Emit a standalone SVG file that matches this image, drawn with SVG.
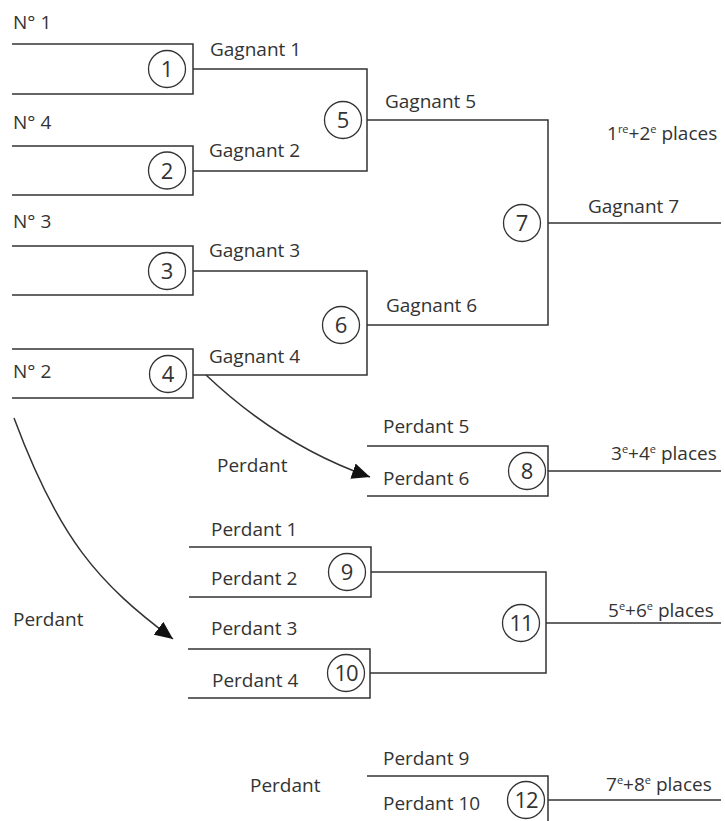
<svg xmlns="http://www.w3.org/2000/svg" width="725" height="821" viewBox="0 0 725 821">
<style>
  .ln{fill:none;stroke:#333;stroke-width:1.5}
  .cr{fill:#fff;stroke:#333;stroke-width:1.3}
  .t{font-family:"Open Sans","Noto Sans","Liberation Sans",sans-serif;font-size:19px;fill:#333}
  .n{font-family:"Open Sans","Noto Sans","Liberation Sans",sans-serif;font-size:22px;fill:#333;text-anchor:middle}
  .s{font-size:11px}
</style>
<defs>
  <marker id="ah" viewBox="0 0 18 16" refX="18" refY="8" markerWidth="18" markerHeight="16" markerUnits="userSpaceOnUse" orient="auto">
    <path d="M0,0 L18,8 L0,16 z" fill="#111"/>
  </marker>
</defs>
<rect width="725" height="821" fill="#fff"/>

<g id="match1">
  <path class="ln" d="M12,44 H193 V94 H12"/>
  <circle class="cr" cx="167" cy="69" r="18.5"/>
  <text class="n" x="167" y="77">1</text>
  <text class="t" x="13" y="29">N° 1</text>
</g>
<g id="match2">
  <path class="ln" d="M12,146 H193 V195 H12"/>
  <circle class="cr" cx="167" cy="170.5" r="18.5"/>
  <text class="n" x="167" y="178.5">2</text>
  <text class="t" x="13" y="129">N° 4</text>
</g>
<g id="match3">
  <path class="ln" d="M12,246 H193 V295 H12"/>
  <circle class="cr" cx="167" cy="271" r="18.5"/>
  <text class="n" x="167" y="279">3</text>
  <text class="t" x="13" y="228">N° 3</text>
</g>
<g id="match4">
  <path class="ln" d="M12,349 H193 V398 H12"/>
  <circle class="cr" cx="168" cy="374" r="18.5"/>
  <text class="n" x="168" y="382">4</text>
  <text class="t" x="13" y="378">N° 2</text>
</g>
<g id="match5">
  <circle class="cr" cx="343" cy="120" r="18.5"/>
  <text class="n" x="343" y="128">5</text>
</g>
<g id="match6">
  <circle class="cr" cx="341" cy="325" r="18.5"/>
  <text class="n" x="341" y="333">6</text>
</g>
<g id="match7">
  <circle class="cr" cx="522" cy="223" r="18.5"/>
  <text class="n" x="522" y="231">7</text>
  <text class="t" x="607" y="140">1<tspan class="s" dy="-7">re</tspan><tspan dy="7">+2</tspan><tspan class="s" dy="-7">e</tspan><tspan dy="7"> places</tspan></text>
</g>
<g id="match8">
  <path class="ln" d="M367,446 H548 V496 H367"/>
  <circle class="cr" cx="527" cy="471" r="18.5"/>
  <text class="n" x="527" y="479">8</text>
  <text class="t" x="383" y="433">Perdant 5</text>
  <text class="t" x="383" y="485">Perdant 6</text>
  <text class="t" x="611" y="460">3<tspan class="s" dy="-7">e</tspan><tspan dy="7">+4</tspan><tspan class="s" dy="-7">e</tspan><tspan dy="7"> places</tspan></text>
</g>
<g id="match9">
  <path class="ln" d="M189,547 H371 V597 H189"/>
  <circle class="cr" cx="347" cy="572" r="18.5"/>
  <text class="n" x="347" y="580">9</text>
  <text class="t" x="211" y="536">Perdant 1</text>
  <text class="t" x="211" y="585">Perdant 2</text>
</g>
<g id="match10">
  <path class="ln" d="M188,649 H370 V698 H188"/>
  <circle class="cr" cx="346" cy="673" r="18.5"/>
  <text class="n" x="346" y="681" letter-spacing="-1">10</text>
  <text class="t" x="211" y="635">Perdant 3</text>
  <text class="t" x="212" y="687">Perdant 4</text>
</g>
<g id="match11">
  <circle class="cr" cx="521" cy="623" r="18.5"/>
  <text class="n" x="521" y="631" letter-spacing="-1">11</text>
  <text class="t" x="608" y="617">5<tspan class="s" dy="-7">e</tspan><tspan dy="7">+6</tspan><tspan class="s" dy="-7">e</tspan><tspan dy="7"> places</tspan></text>
</g>
<g id="match12">
  <path class="ln" d="M367,776 H548 V826"/>
  <circle class="cr" cx="526" cy="800" r="18.5"/>
  <text class="n" x="526" y="808" letter-spacing="-1">12</text>
  <text class="t" x="383" y="765">Perdant 9</text>
  <text class="t" x="383" y="810">Perdant 10</text>
  <text class="t" x="606" y="791">7<tspan class="s" dy="-7">e</tspan><tspan dy="7">+8</tspan><tspan class="s" dy="-7">e</tspan><tspan dy="7"> places</tspan></text>
</g>

<g id="connectors">
  <path class="ln" d="M193,69 H367 V171 H193"/>
  <path class="ln" d="M193,271 H367 V375 H193"/>
  <path class="ln" d="M367,120 H548 V325 H367"/>
  <path class="ln" d="M548,223 H721"/>
  <path class="ln" d="M548,471 H721"/>
  <path class="ln" d="M371,572 H546 V673 H370"/>
  <path class="ln" d="M546,623 H721"/>
  <path class="ln" d="M548,800 H721"/>
  <path class="ln" d="M206,375 Q281,446 370,477" stroke-width="1.2" marker-end="url(#ah)"/>
  <path class="ln" d="M14,418 C59,539 98,583 173,639" stroke-width="1.2" marker-end="url(#ah)"/>
  <text class="t" x="210" y="56">Gagnant 1</text>
  <text class="t" x="209" y="157">Gagnant 2</text>
  <text class="t" x="209" y="257">Gagnant 3</text>
  <text class="t" x="209" y="363">Gagnant 4</text>
  <text class="t" x="385" y="108">Gagnant 5</text>
  <text class="t" x="386" y="312">Gagnant 6</text>
  <text class="t" x="588" y="213">Gagnant 7</text>
  <text class="t" x="217" y="472">Perdant</text>
  <text class="t" x="13" y="626">Perdant</text>
  <text class="t" x="250" y="792">Perdant</text>
</g>
</svg>
